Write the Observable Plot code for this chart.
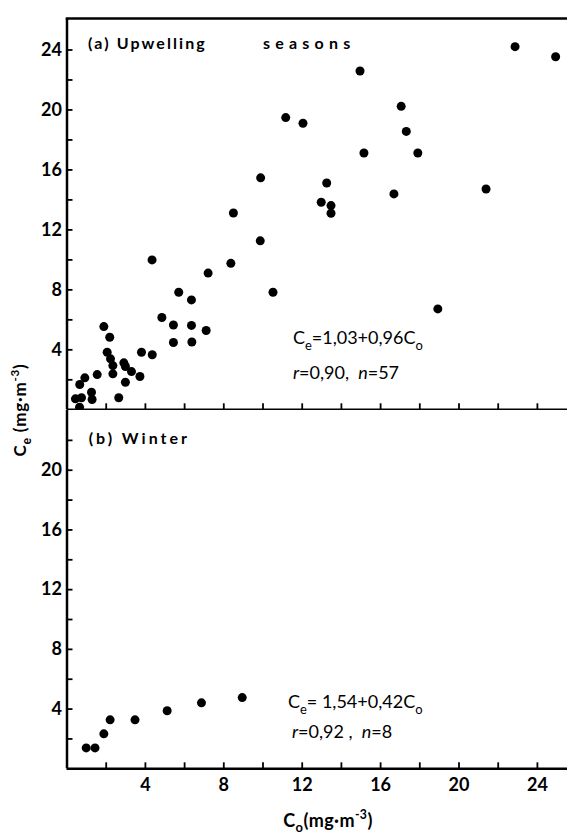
<!DOCTYPE html>
<html><head><meta charset="utf-8">
<script src="https://cdn.jsdelivr.net/npm/d3@7"></script>
<script src="https://cdn.jsdelivr.net/npm/@observablehq/plot@0.6"></script>
<style>
body{margin:0;background:#fff;}
#wrap{position:relative;width:567px;height:834px;overflow:hidden;font-family:Lato,"DejaVu Sans",sans-serif;color:#000;}
#wrap > svg{display:block;}
#overlay{position:absolute;left:0;top:0;pointer-events:none;}
</style></head><body><div id="wrap"></div>
<script>
// (a) Upwelling seasons: C_o (x) and C_e (y), mg·m^-3
const upX = [22.86,24.93,14.95,11.16,12.04,17.05,17.31,15.15,17.9,9.88,13.25,16.68,21.38,12.97,13.47,13.47,8.49,9.86,4.34,8.36,7.2,10.51,5.7,6.35,18.92,4.84,5.43,6.35,7.1,5.43,6.37,
  1.88,2.18,2.05,2.22,2.34,2.34,2.9,2.98,3.29,3.72,3.8,4.35,1.54,0.91,0.65,2.98,1.25,1.28,2.64,0.43,0.74,0.64];
const upY = [24.22,23.55,22.6,19.49,19.11,20.24,18.57,17.13,17.13,15.47,15.13,14.4,14.73,13.84,13.62,13.11,13.13,11.27,10.0,9.77,9.12,7.84,7.84,7.33,6.73,6.16,5.66,5.63,5.29,4.49,4.52,
  5.55,4.84,3.84,3.4,2.95,2.4,3.13,2.89,2.55,2.22,3.84,3.67,2.35,2.13,1.69,1.84,1.17,0.69,0.8,0.73,0.8,0.17];
// (b) Winter
const wiX = [0.98,1.43,1.88,2.2,3.47,5.11,6.86,8.94];
const wiY = [1.4,1.4,2.34,3.28,3.28,3.89,4.42,4.77];

const xTicks = [2,4,6,8,10,12,14,16,18,20,22,24];
const xTickLabels = [4,8,12,16,20,24];
const yTicksTop = [2,4,6,8,10,12,14,16,18,20,22,24];
const yLabelsTop = [4,8,12,16,20,24];
const yTicksBot = [2,4,6,8,10,12,14,16,18,20,22];
const yLabelsBot = [4,8,12,16,20];

const titleA = ["(a) Upwelling", "seasons"];
const titleB = "(b) Winter";
const eqA = [["C",null],["e","sub"],["=1,03+0,96C",null],["o","sub"]];
const statA = [["r","i"],["=0,90,  ",null],["n","i"],["=57",null]];
const eqB = [["C",null],["e","sub"],["= 1,54+0,42C",null],["o","sub"]];
const statB = [["r","i"],["=0,92 ,  ",null],["n","i"],["=8",null]];
const xTitle = [["C",null],["o","sub"],["(mg·m",null],["-3","sup"],[")",null]];
const yTitle = [["C",null],["e","sub"],[" (mg·m",null],["-3","sup"],[")",null]];

const up = upX.map((x,i)=>({x, y: upY[i]}));
const wi = wiX.map((x,i)=>({x, y: wiY[i]}));

const W = 567, ML = 66.5, PXU = 19.6;
const xDomain = [0, (W-ML)/PXU];
const AX = 2.5, TK = 1.8;
const FF = 'Lato,"DejaVu Sans",sans-serif';
const font = {fontFamily: FF, fontSize:"18px", fontWeight:"bold", color:"#000", background:"transparent"};

const topPlot = Plot.plot({
  width: W, height: 410, marginLeft: ML, marginRight: 0, marginTop: 18, marginBottom: 0.7,
  x: {domain: xDomain, label: null}, y: {domain: [0, 26.1], label: null},
  style: font,
  marks: [
    Plot.frame({anchor: "top", strokeWidth: AX}),
    Plot.ruleX([0], {strokeWidth: AX}),
    Plot.ruleY([0], {strokeWidth: AX}),
    Plot.axisY(yTicksTop, {tickSize: -6, strokeWidth: TK, fill: null, label: null}),
    Plot.axisY(yLabelsTop, {tickSize: 0, tickPadding: 5, label: null}),
    Plot.axisX(xTicks, {anchor: "bottom", tickSize: -6, strokeWidth: TK, fill: null, label: null}),
    Plot.dot(up, {x: "x", y: "y", r: 4.5, fill: "#000", stroke: null})
  ]
});

const botPlot = Plot.plot({
  width: W, height: 424, marginLeft: ML, marginRight: 0, marginTop: 0, marginBottom: 65.7,
  x: {domain: xDomain, label: null}, y: {domain: [0, 24], label: null},
  style: font,
  marks: [
    Plot.ruleX([0], {strokeWidth: AX}),
    Plot.ruleY([0], {strokeWidth: AX}),
    Plot.axisY(yTicksBot, {tickSize: -6, strokeWidth: TK, fill: null, label: null}),
    Plot.axisY(yLabelsBot, {tickSize: 0, tickPadding: 5, label: null}),
    Plot.axisX(xTicks, {anchor: "bottom", tickSize: -6, strokeWidth: TK, fill: null, label: null}),
    Plot.axisX(xTickLabels, {anchor: "bottom", tickSize: 0, tickPadding: 9, label: null}),
    Plot.dot(wi, {x: "x", y: "y", r: 4.5, fill: "#000", stroke: null})
  ]
});

const wrap = document.getElementById("wrap");
wrap.appendChild(topPlot);
wrap.appendChild(botPlot);

function rich(svg, px, py, parts, size, weight, anchor, spacing, rotate) {
  const t = d3.select(svg).append("text")
    .attr("font-family", FF)
    .attr("font-size", size).attr("font-weight", weight || "normal")
    .attr("text-anchor", anchor || "start").attr("fill", "#000");
  if (rotate) t.attr("transform", `translate(${px},${py}) rotate(${rotate})`);
  else t.attr("x", px).attr("y", py);
  if (spacing) t.attr("letter-spacing", spacing);
  t.style("white-space", "pre");
  let back = 0;
  for (const [s, kind] of parts) {
    const ts = t.append("tspan").text(s);
    let dy = back; back = 0;
    if (kind === "sub") { dy += 0.32*size; back = -0.32*size; ts.attr("font-size", size*0.72); }
    else if (kind === "sup") { dy += -0.42*size; back = 0.42*size; ts.attr("font-size", size*0.68); }
    else if (kind === "i") ts.attr("font-style", "italic");
    if (dy) ts.attr("dy", dy);
  }
  return t;
}

const tx = topPlot.scale("x"), ty = topPlot.scale("y");
const bx = botPlot.scale("x"), by = botPlot.scale("y");

rich(topPlot, tx.apply(1.1), ty.apply(24.0), [[titleA[0], null]], 16, "bold", "start", "2.1");
rich(topPlot, tx.apply(10.03), ty.apply(24.0), [[titleA[1], null]], 16, "bold", "start", "5.2");
rich(topPlot, tx.apply(11.55), ty.apply(4.35), eqA, 18, "normal");
rich(topPlot, tx.apply(11.55), ty.apply(2.02), statA, 18, "normal");

rich(botPlot, bx.apply(1.13), by.apply(21.75), [[titleB, null]], 16, "bold", "start", "3");
rich(botPlot, bx.apply(11.3), by.apply(4.02), eqB, 18, "normal");
rich(botPlot, bx.apply(11.5), by.apply(2.02), statB, 18, "normal");

// x-axis title
rich(botPlot, 328, 416.5, xTitle, 18, "bold", "middle", "0.4");

// y-axis title spanning both panels
const ov = d3.select(wrap).append("svg").attr("id","overlay").attr("width", W).attr("height", 834).node();
rich(ov, 26, 410, yTitle, 17, "bold", "middle", "0.8", -90);
</script>
</body></html>
